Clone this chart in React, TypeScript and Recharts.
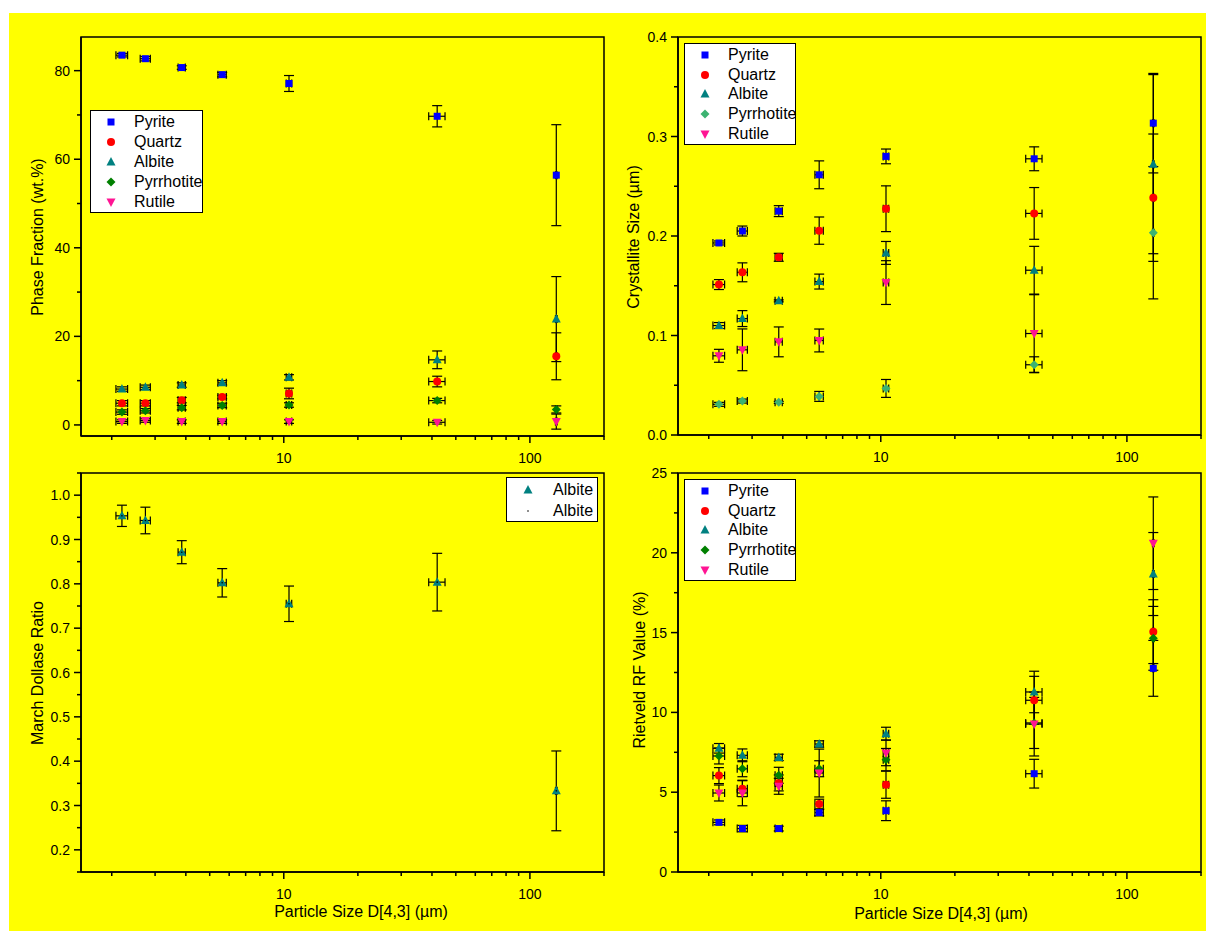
import React from "react";
import { ScatterChart, Scatter, XAxis, YAxis, ErrorBar, ReferenceArea } from "recharts";

const FONT = "'Liberation Sans', Arial, sans-serif";

// particle size D[4,3] (µm) and its spread, shared by all four panels
const SIZES = [2.2, 2.74, 3.85, 5.62, 10.5, 42.0, 128];
const SIZE_ERR = [0.12, 0.13, 0.13, 0.22, 0.27, 3.2, 1.0];
const X_TICKS = [2, 3, 4, 5, 6, 7, 8, 9, 10, 20, 30, 40, 50, 60, 70, 80, 90, 100, 200];

// phase fraction (wt.%)
const PF_PYRITE = [83.5, 82.7, 80.7, 79.1, 77.1, 69.7, 56.4];
const PF_PYRITE_ERR = [0.4, 0.5, 0.4, 0.5, 1.8, 2.4, 11.4];
const PF_QUARTZ = [4.9, 4.9, 5.6, 6.3, 7.1, 9.8, 15.5];
const PF_QUARTZ_ERR = [0.6, 0.6, 0.6, 0.4, 1.2, 1.2, 5.3];
const PF_ALBITE = [8.1, 8.5, 9.0, 9.5, 10.75, 14.7, 23.9];
const PF_ALBITE_ERR = [0.5, 0.5, 0.5, 0.5, 0.6, 2.0, 9.6];
const PF_PYRRHOTITE = [2.9, 3.2, 3.9, 4.4, 4.5, 5.5, 3.5];
const PF_PYRRHOTITE_ERR = [0.5, 0.5, 0.5, 0.5, 0.5, 0.5, 0.8];
const PF_RUTILE = [0.75, 1.0, 0.75, 0.75, 0.75, 0.6, 0.75];
const PF_RUTILE_ERR = [0.4, 0.4, 0.4, 0.4, 0.4, 0.4, 1.7];

// crystallite size (µm)
const CS_PYRITE = [0.193, 0.205, 0.225, 0.2615, 0.28, 0.2776, 0.3134];
const CS_PYRITE_ERR = [0.002, 0.005, 0.0055, 0.014, 0.0074, 0.012, 0.05];
const CS_QUARTZ = [0.1512, 0.1635, 0.1786, 0.2054, 0.2274, 0.2227, 0.2385];
const CS_QUARTZ_ERR = [0.005, 0.0095, 0.004, 0.0137, 0.023, 0.026, 0.064];
const CS_ALBITE = [0.11, 0.117, 0.1348, 0.1542, 0.183, 0.1656, 0.2722];
const CS_ALBITE_ERR = [0.003, 0.008, 0.001, 0.0075, 0.0115, 0.024, 0.09];
const CS_PYRRHOTITE = [0.0308, 0.0341, 0.0328, 0.0388, 0.0468, 0.0706, 0.2033];
const CS_PYRRHOTITE_ERR = [0.002, 0.002, 0.001, 0.005, 0.009, 0.008, 0.0665];
const CS_RUTILE = [0.0796, 0.0856, 0.0936, 0.095, 0.1532, 0.102, null];
const CS_RUTILE_ERR = [0.0065, 0.021, 0.015, 0.0115, 0.022, 0.039, null];

// March-Dollase ratio (albite)
const MD_ALBITE = [0.9534, 0.9429, 0.8714, 0.8023, 0.755, 0.8038, 0.333];
const MD_ALBITE_ERR = [0.024, 0.03, 0.026, 0.032, 0.04, 0.065, 0.09];

// Rietveld RF value (%)
const RF_PYRITE = [3.11, 2.72, 2.72, 3.72, 3.84, 6.16, 12.76];
const RF_PYRITE_ERR = [0.15, 0.2, 0.15, 0.2, 0.62, 0.9, 1.75];
const RF_QUARTZ = [6.04, 5.22, 5.58, 4.26, 5.47, 10.76, 15.06];
const RF_QUARTZ_ERR = [0.5, 0.5, 0.5, 0.3, 0.85, 1.5, 2.0];
const RF_ALBITE = [7.75, 7.31, 7.18, 8.02, 8.67, 11.28, 18.67];
const RF_ALBITE_ERR = [0.3, 0.4, 0.2, 0.2, 0.4, 1.3, 2.6];
const RF_PYRRHOTITE = [7.27, 6.47, 6.06, 6.47, 7.04, 9.34, 14.64];
const RF_PYRRHOTITE_ERR = [0.5, 0.5, 0.5, 0.5, 0.7, 1.6, 2.0];
const RF_RUTILE = [4.95, 4.95, 5.37, 6.2, 7.46, 9.27, 20.6];
const RF_RUTILE_ERR = [0.5, 0.8, 0.5, 1.5, 0.8, 2.0, 2.9];

const PF_TICKS = [0, 10, 20, 30, 40, 50, 60, 70, 80];
const CS_TICKS = [0, 0.05, 0.1, 0.15, 0.2, 0.25, 0.3, 0.35, 0.4];
const MD_TICKS = [0.15, 0.2, 0.25, 0.3, 0.35, 0.4, 0.45, 0.5, 0.55, 0.6, 0.65, 0.7, 0.75, 0.8, 0.85, 0.9, 0.95, 1.0, 1.05];
const RF_TICKS = [0, 2.5, 5, 7.5, 10, 12.5, 15, 17.5, 20, 22.5, 25];

type Kind = "square" | "circle" | "triangle" | "diamond" | "down" | "dot";

const BLUE = "#0000FF";
const RED = "#FF0000";
const TEAL = "#008080";
const GREEN = "#008000";
const SEAGREEN = "#3CB371";
const PINK = "#FF1493";

interface Series {
  name: string;
  kind: Kind;
  color: string;
  values: (number | null)[];
  errors: (number | null)[];
}

const Glyph = ({ kind, cx, cy, color }: { kind: Kind; cx: number; cy: number; color: string }) => {
  switch (kind) {
    case "square":
      return <rect x={cx - 3.5} y={cy - 3.5} width={7} height={7} fill={color} />;
    case "circle":
      return <circle cx={cx} cy={cy} r={4} fill={color} />;
    case "triangle":
      return <polygon points={`${cx},${cy - 5} ${cx + 4.5},${cy + 3.5} ${cx - 4.5},${cy + 3.5}`} fill={color} />;
    case "diamond":
      return <polygon points={`${cx},${cy - 4.5} ${cx + 4.5},${cy} ${cx},${cy + 4.5} ${cx - 4.5},${cy}`} fill={color} />;
    case "down":
      return <polygon points={`${cx - 4.5},${cy - 3.5} ${cx + 4.5},${cy - 3.5} ${cx},${cy + 5}`} fill={color} />;
    default:
      return <circle cx={cx} cy={cy} r={0.8} fill={color} />;
  }
};

const near = (v: number, step: number) => Math.abs(v / step - Math.round(v / step)) < 1e-6;

const makeYTick = (step: number, digits: number) => (props: any) => {
  const { x, y, payload } = props;
  const v = payload.value as number;
  const major = near(v, step);
  return (
    <g>
      <line x1={x} x2={x - (major ? 7 : 4)} y1={y} y2={y} stroke="#000" strokeWidth={1.5} />
      {major && (
        <text x={x - 11} y={y} dy="0.36em" textAnchor="end" fontSize={14} fontFamily={FONT} fill="#000">
          {v.toFixed(digits)}
        </text>
      )}
    </g>
  );
};

const XTick = (props: any) => {
  const { x, y, payload } = props;
  const v = payload.value as number;
  const major = v === 10 || v === 100;
  return (
    <g>
      <line x1={x} x2={x} y1={y} y2={y + (major ? 7 : 4)} stroke="#000" strokeWidth={1.5} />
      {major && (
        <text x={x} y={y + 27} textAnchor="middle" fontSize={14} fontFamily={FONT} fill="#000">
          {v}
        </text>
      )}
    </g>
  );
};

function Panel({
  left,
  top,
  width,
  height,
  marginTop,
  yWidth,
  xHeight,
  yDomain,
  yTicks,
  yStep,
  yDigits,
  series,
  extraDots,
}: {
  left: number;
  top: number;
  width: number;
  height: number;
  marginTop: number;
  yWidth: number;
  xHeight: number;
  yDomain: [number, number];
  yTicks: number[];
  yStep: number;
  yDigits: number;
  series: Series[];
  extraDots?: boolean;
}) {
  return (
    <div style={{ position: "absolute", left, top }}>
      <ScatterChart width={width} height={height} margin={{ top: marginTop, right: 5, bottom: 0, left: 0 }}>
        <XAxis
          dataKey="x"
          type="number"
          scale="log"
          domain={[1.5, 200]}
          allowDataOverflow
          ticks={X_TICKS}
          interval={0}
          tick={<XTick />}
          tickSize={0}
          tickMargin={0}
          tickLine={false}
          height={xHeight}
          axisLine={{ stroke: "#000", strokeWidth: 1.5 }}
        />
        <YAxis
          dataKey="y"
          type="number"
          domain={yDomain}
          allowDataOverflow
          ticks={yTicks}
          interval={0}
          tick={makeYTick(yStep, yDigits)}
          tickSize={0}
          tickMargin={0}
          tickLine={false}
          width={yWidth}
          axisLine={{ stroke: "#000", strokeWidth: 1.5 }}
        />
        <ReferenceArea
          x1={1.5}
          x2={200}
          y1={yDomain[0]}
          y2={yDomain[1]}
          fill="none"
          stroke="#000"
          strokeWidth={1.5}
          strokeOpacity={1}
          fillOpacity={0}
        />
        {series.map((s) => {
          const data = SIZES.map((x, i) => ({ x, y: s.values[i], ex: SIZE_ERR[i], ey: s.errors[i] })).filter(
            (d) => d.y !== null
          );
          return (
            <Scatter
              key={s.name}
              name={s.name}
              data={data}
              isAnimationActive={false}
              shape={(p: any) => <Glyph kind={s.kind} cx={p.cx} cy={p.cy} color={s.color} />}
            >
              <ErrorBar dataKey="ey" direction="y" width={5} stroke="#000" strokeWidth={1.2} isAnimationActive={false} />
              <ErrorBar dataKey="ex" direction="x" width={4} stroke="#000" strokeWidth={1.2} isAnimationActive={false} />
            </Scatter>
          );
        })}
        {extraDots && (
          <Scatter
            name="Albite"
            data={SIZES.map((x, i) => ({ x, y: series[0].values[i] }))}
            isAnimationActive={false}
            shape={(p: any) => <Glyph kind="dot" cx={p.cx} cy={p.cy} color="#000" />}
          />
        )}
      </ScatterChart>
    </div>
  );
}

function LegendBox({
  left,
  top,
  width,
  rowH,
  markerX,
  textX,
  items,
}: {
  left: number;
  top: number;
  width: number;
  rowH: number;
  markerX: number;
  textX: number;
  items: { name: string; kind: Kind; color: string }[];
}) {
  return (
    <div
      style={{
        position: "absolute",
        left,
        top,
        width,
        height: items.length * rowH + 3,
        background: "#fff",
        border: "1.5px solid #000",
        boxSizing: "border-box",
        fontFamily: FONT,
        fontSize: 16,
      }}
    >
      {items.map((it, i) => (
        <div key={i} style={{ position: "absolute", left: 0, top: 1 + i * rowH, height: rowH, width: "100%" }}>
          <svg width={14} height={14} style={{ position: "absolute", left: markerX - 7, top: rowH / 2 - 7 }}>
            <Glyph kind={it.kind} cx={7} cy={7} color={it.color} />
          </svg>
          <span style={{ position: "absolute", left: textX, top: rowH / 2 - 9, lineHeight: "18px", whiteSpace: "nowrap" }}>
            {it.name}
          </span>
        </div>
      ))}
    </div>
  );
}

const Title = ({ x, y, text, vertical }: { x: number; y: number; text: string; vertical?: boolean }) => (
  <div
    style={{
      position: "absolute",
      left: x,
      top: y,
      transform: `translate(-50%, -50%)${vertical ? " rotate(-90deg)" : ""}`,
      whiteSpace: "nowrap",
      fontFamily: FONT,
      fontSize: 16,
      color: "#000",
    }}
  >
    {text}
  </div>
);

export default function App() {
  const pf: Series[] = [
    { name: "Pyrite", kind: "square", color: BLUE, values: PF_PYRITE, errors: PF_PYRITE_ERR },
    { name: "Quartz", kind: "circle", color: RED, values: PF_QUARTZ, errors: PF_QUARTZ_ERR },
    { name: "Albite", kind: "triangle", color: TEAL, values: PF_ALBITE, errors: PF_ALBITE_ERR },
    { name: "Pyrrhotite", kind: "diamond", color: GREEN, values: PF_PYRRHOTITE, errors: PF_PYRRHOTITE_ERR },
    { name: "Rutile", kind: "down", color: PINK, values: PF_RUTILE, errors: PF_RUTILE_ERR },
  ];
  const cs: Series[] = [
    { name: "Pyrite", kind: "square", color: BLUE, values: CS_PYRITE, errors: CS_PYRITE_ERR },
    { name: "Quartz", kind: "circle", color: RED, values: CS_QUARTZ, errors: CS_QUARTZ_ERR },
    { name: "Albite", kind: "triangle", color: TEAL, values: CS_ALBITE, errors: CS_ALBITE_ERR },
    { name: "Pyrrhotite", kind: "diamond", color: SEAGREEN, values: CS_PYRRHOTITE, errors: CS_PYRRHOTITE_ERR },
    { name: "Rutile", kind: "down", color: PINK, values: CS_RUTILE, errors: CS_RUTILE_ERR },
  ];
  const md: Series[] = [{ name: "Albite", kind: "triangle", color: TEAL, values: MD_ALBITE, errors: MD_ALBITE_ERR }];
  const rf: Series[] = [
    { name: "Pyrite", kind: "square", color: BLUE, values: RF_PYRITE, errors: RF_PYRITE_ERR },
    { name: "Quartz", kind: "circle", color: RED, values: RF_QUARTZ, errors: RF_QUARTZ_ERR },
    { name: "Albite", kind: "triangle", color: TEAL, values: RF_ALBITE, errors: RF_ALBITE_ERR },
    { name: "Pyrrhotite", kind: "diamond", color: GREEN, values: RF_PYRRHOTITE, errors: RF_PYRRHOTITE_ERR },
    { name: "Rutile", kind: "down", color: PINK, values: RF_RUTILE, errors: RF_RUTILE_ERR },
  ];

  return (
    <div style={{ position: "absolute", left: 0, top: 0, width: 1206, height: 931, overflow: "hidden" }}>
      <div style={{ position: "absolute", left: 9, top: 13, width: 1197, height: 918, background: "#FFFF00" }} />

      {/* top left: phase fraction */}
      <Panel left={0} top={0} width={609} height={475} marginTop={37} yWidth={81} xHeight={39}
        yDomain={[-2.5, 87.6]} yTicks={PF_TICKS} yStep={20} yDigits={0} series={pf} />
      {/* top right: crystallite size */}
      <Panel left={600} top={0} width={606} height={475} marginTop={37} yWidth={78} xHeight={40}
        yDomain={[0, 0.4]} yTicks={CS_TICKS} yStep={0.1} yDigits={1} series={cs} />
      {/* bottom left: March-Dollase */}
      <Panel left={0} top={440} width={609} height={491} marginTop={33} yWidth={81} xHeight={59}
        yDomain={[0.15, 1.05]} yTicks={MD_TICKS} yStep={0.1} yDigits={1} series={md} extraDots />
      {/* bottom right: Rietveld RF */}
      <Panel left={600} top={440} width={606} height={491} marginTop={33} yWidth={78} xHeight={59}
        yDomain={[0, 25]} yTicks={RF_TICKS} yStep={5} yDigits={0} series={rf} />

      <Title x={38} y={237} text="Phase Fraction (wt.%)" vertical />
      <Title x={634} y={237} text="Crystallite Size (µm)" vertical />
      <Title x={38} y={673} text="March Dollase Ratio" vertical />
      <Title x={640} y={670} text="Rietveld RF Value (%)" vertical />
      <Title x={361} y={912} text="Particle Size D[4,3] (µm)" />
      <Title x={941} y={914} text="Particle Size D[4,3] (µm)" />

      <LegendBox left={90} top={110} width={113} rowH={20} markerX={20} textX={43} items={pf} />
      <LegendBox left={684} top={43} width={112} rowH={19.8} markerX={20} textX={43} items={cs} />
      <LegendBox left={684} top={479} width={112} rowH={19.8} markerX={20} textX={43} items={rf} />
      <LegendBox
        left={506}
        top={477}
        width={92}
        rowH={21}
        markerX={21}
        textX={46}
        items={[
          { name: "Albite", kind: "triangle", color: TEAL },
          { name: "Albite", kind: "dot", color: "#000" },
        ]}
      />
    </div>
  );
}
